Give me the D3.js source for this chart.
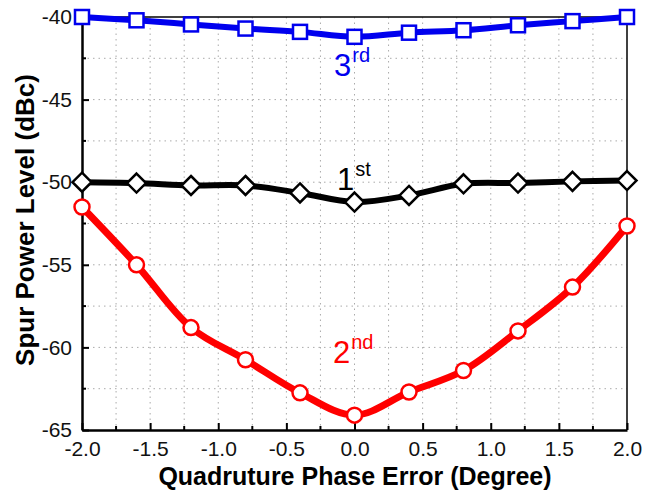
<!DOCTYPE html>
<html>
<head>
<meta charset="utf-8">
<script src="https://cdn.jsdelivr.net/npm/d3@7"></script>
<style>
  html, body { margin: 0; padding: 0; background: #fff; }
  svg { display: block; font-family: Arial, "Liberation Sans", sans-serif; }
</style>
</head>
<body>
<svg id="chart" width="663" height="494"></svg>
<script>
// Quadrature phase error sweep (degrees)
const phaseError = [-2.0, -1.6, -1.2, -0.8, -0.4, 0.0, 0.4, 0.8, 1.2, 1.6, 2.0];
// Spur levels in dBc
const spur3rd = [-40.0, -40.2, -40.45, -40.7, -40.9, -41.2, -40.95, -40.8, -40.5, -40.25, -40.0];
const spur1st = [-50.0, -50.05, -50.2, -50.2, -50.65, -51.2, -50.8, -50.1, -50.05, -49.95, -49.9];
const spur2nd = [-51.5, -55.0, -58.8, -60.75, -62.75, -64.1, -62.7, -61.4, -59.0, -56.35, -52.65];
const xTicks = [-2.0, -1.5, -1.0, -0.5, 0.0, 0.5, 1.0, 1.5, 2.0];
const yTicks = [-65, -60, -55, -50, -45, -40];

const svg = d3.select("#chart");
const L = 82, R = 627, T = 17, B = 430;
const x = d3.scaleLinear().domain([-2, 2]).range([L, R]);
const y = d3.scaleLinear().domain([-65, -40]).range([B, T]);

// dotted grid
const gridX = d3.range(-1.75, 2.0, 0.25);
const gridY = d3.range(-62.5, -40, 2.5);
svg.append("g").selectAll("line").data(gridX).join("line")
  .attr("x1", d => x(d)).attr("x2", d => x(d)).attr("y1", T).attr("y2", B)
  .attr("stroke", "#aaa").attr("stroke-width", 1).attr("stroke-dasharray", "1.5,4");
svg.append("g").selectAll("line").data(gridY).join("line")
  .attr("x1", L).attr("x2", R).attr("y1", d => y(d)).attr("y2", d => y(d))
  .attr("stroke", "#aaa").attr("stroke-width", 1).attr("stroke-dasharray", "1.5,4");

// frame (top / right)
svg.append("line").attr("x1", L).attr("x2", R).attr("y1", T).attr("y2", T)
  .attr("stroke", "#000").attr("stroke-width", 1.5);
svg.append("line").attr("x1", R).attr("x2", R).attr("y1", T).attr("y2", B)
  .attr("stroke", "#000").attr("stroke-width", 1.5);

// bottom axis, ticks pointing inward
const xAxis = svg.append("g").attr("transform", `translate(0,${B})`)
  .call(d3.axisBottom(x).tickValues(xTicks).tickSizeInner(-7).tickSizeOuter(0).tickPadding(11)
    .tickFormat(d => d3.format(".1f")(d).replace("−", "-")));
xAxis.select(".domain").attr("stroke-width", 2.5);
xAxis.selectAll(".tick line").attr("stroke-width", 2);
xAxis.selectAll("text").attr("font-size", 21).attr("fill", "#111");
svg.append("g").selectAll("line").data(d3.range(-1.75, 2.0, 0.5)).join("line")
  .attr("x1", d => x(d)).attr("x2", d => x(d)).attr("y1", B).attr("y2", B - 4)
  .attr("stroke", "#000").attr("stroke-width", 2);

// left axis
const yAxis = svg.append("g").attr("transform", `translate(${L},0)`)
  .call(d3.axisLeft(y).tickValues(yTicks).tickSizeInner(-7).tickSizeOuter(0).tickPadding(10)
    .tickFormat(d => String(d)));
yAxis.select(".domain").attr("stroke-width", 2.5);
yAxis.selectAll(".tick line").attr("stroke-width", 2);
yAxis.selectAll("text").attr("font-size", 21).attr("fill", "#111");
svg.append("g").selectAll("line").data(d3.range(-62.5, -40, 5)).join("line")
  .attr("x1", L).attr("x2", L + 4).attr("y1", d => y(d)).attr("y2", d => y(d))
  .attr("stroke", "#000").attr("stroke-width", 2);

// axis titles
svg.append("text").attr("x", 355).attr("y", 485).attr("text-anchor", "middle")
  .attr("font-size", 25).attr("font-weight", "bold").text("Quadruture Phase Error (Degree)");
svg.append("text").attr("transform", `translate(34,220) rotate(-90)`)
  .attr("text-anchor", "middle").attr("font-size", 26).attr("font-weight", "bold")
  .text("Spur Power Level (dBc)");

const line = d3.line().x(d => x(d[0])).y(d => y(d[1])).curve(d3.curveCatmullRom.alpha(0.5));
const series = [
  { vals: spur3rd, color: "#0000ee", width: 6, shape: "square" },
  { vals: spur1st, color: "#000000", width: 6, shape: "diamond" },
  { vals: spur2nd, color: "#ff0000", width: 7, shape: "circle" }
];

series.forEach(s => {
  const pts = phaseError.map((p, i) => [p, s.vals[i]]);
  svg.append("path").datum(pts).attr("d", line).attr("fill", "none")
    .attr("stroke", s.color).attr("stroke-width", s.width).attr("stroke-linejoin", "round");
  const g = svg.append("g");
  pts.forEach(p => {
    const cx = x(p[0]), cy = y(p[1]);
    if (s.shape === "square") {
      g.append("rect").attr("x", cx - 7).attr("y", cy - 7).attr("width", 14).attr("height", 14)
        .attr("fill", "#fff").attr("stroke", s.color).attr("stroke-width", 2.5);
    } else if (s.shape === "diamond") {
      g.append("path").attr("d", `M${cx},${cy - 9.5}L${cx + 9.5},${cy}L${cx},${cy + 9.5}L${cx - 9.5},${cy}Z`)
        .attr("fill", "#fff").attr("stroke", s.color).attr("stroke-width", 2.5);
    } else {
      g.append("circle").attr("cx", cx).attr("cy", cy).attr("r", 7.5)
        .attr("fill", "#fff").attr("stroke", s.color).attr("stroke-width", 2.5);
    }
  });
});

// harmonic labels with superscripts
function harmonicLabel(px, py, main, sup, color) {
  const t = svg.append("text").attr("x", px).attr("y", py).attr("fill", color).attr("font-size", 31);
  t.append("tspan").text(main);
  t.append("tspan").attr("dx", 1).attr("dy", -14).attr("font-size", 20).text(sup);
}
harmonicLabel(334, 76, "3", "rd", "#0000ee");
harmonicLabel(337, 190, "1", "st", "#000");
harmonicLabel(333, 363, "2", "nd", "#ff0000");
</script>
</body>
</html>
